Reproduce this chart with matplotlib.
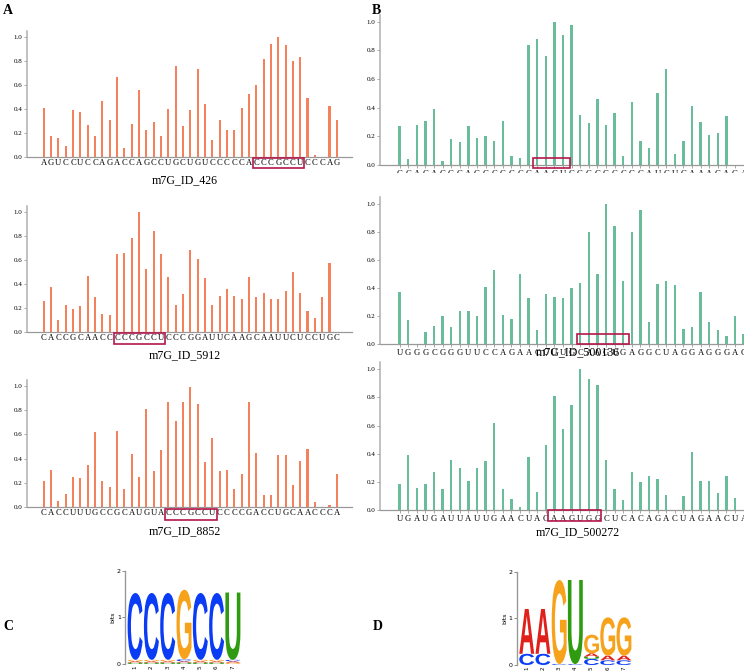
import numpy as np
import matplotlib
matplotlib.use('Agg')
import matplotlib.pyplot as plt
from matplotlib.patches import Rectangle, PathPatch
from matplotlib.textpath import TextPath
from matplotlib.font_manager import FontProperties
import matplotlib.transforms as mtrans

# sequences (x tick labels) and normalised values
seq_a1 = "AGUCCUCCAGACCAGCCUGCUGUCCCCCACCCGCCUCCCAG"
val_a1 = [0.41, 0.18, 0.16, 0.09, 0.39, 0.38, 0.27, 0.18, 0.47, 0.31,
          0.67, 0.08, 0.28, 0.56, 0.23, 0.29, 0.18, 0.40, 0.76, 0.26,
          0.39, 0.73, 0.44, 0.14, 0.31, 0.23, 0.23, 0.41, 0.53, 0.60,
          0.82, 0.94, 1.00, 0.93, 0.80, 0.83, 0.49, 0.02, 0.00, 0.43,
          0.31]
seq_a2 = "CACCGCAACCCCCGCCUCCCGGAUUCAAGCAAUUCUCCUGC"
val_a2 = [0.26, 0.38, 0.10, 0.23, 0.19, 0.22, 0.47, 0.29, 0.15, 0.14,
          0.65, 0.66, 0.78, 1.00, 0.53, 0.84, 0.65, 0.46, 0.23, 0.32,
          0.68, 0.61, 0.45, 0.23, 0.30, 0.36, 0.30, 0.28, 0.46, 0.29,
          0.33, 0.28, 0.28, 0.34, 0.50, 0.33, 0.18, 0.12, 0.29, 0.58,
          0.00]
seq_a3 = "CACCUUUGCCGCAUGUACCCGCCUCCCCGACCUGCAACCCA"
val_a3 = [0.22, 0.31, 0.05, 0.11, 0.25, 0.24, 0.35, 0.62, 0.22, 0.17,
          0.63, 0.15, 0.44, 0.25, 0.81, 0.30, 0.47, 0.87, 0.71, 0.87,
          0.99, 0.85, 0.37, 0.57, 0.30, 0.31, 0.15, 0.27, 0.87, 0.45,
          0.10, 0.10, 0.43, 0.43, 0.18, 0.38, 0.48, 0.04, 0.00, 0.02,
          0.27]
seq_b1 = "GCAGAGGGAGGCCCCGAAGUGGCGGCCGGAUCUGAAAGAGA"
val_b1 = [0.27, 0.04, 0.28, 0.31, 0.39, 0.03, 0.18, 0.16, 0.27, 0.19,
          0.20, 0.17, 0.31, 0.06, 0.05, 0.84, 0.88, 0.76, 1.00, 0.91,
          0.98, 0.35, 0.29, 0.46, 0.28, 0.36, 0.06, 0.44, 0.17, 0.12,
          0.50, 0.67, 0.08, 0.17, 0.41, 0.30, 0.21, 0.22, 0.34, 0.00,
          0.00]
seq_b2 = "UGGGCGGGUUCCAGAACUUUGCAAGUGAGGCUAGGAGGGAC"
val_b2 = [0.37, 0.17, 0.00, 0.09, 0.13, 0.20, 0.12, 0.24, 0.24, 0.20,
          0.41, 0.53, 0.21, 0.18, 0.50, 0.33, 0.10, 0.36, 0.34, 0.33,
          0.40, 0.44, 0.80, 0.50, 1.00, 0.84, 0.45, 0.80, 0.96, 0.16,
          0.43, 0.45, 0.42, 0.11, 0.12, 0.37, 0.16, 0.10, 0.06, 0.20,
          0.07]
seq_b3 = "UGAUGAUUAUUGAACUACAAGUGGCUCACAGACUAGAACUA"
val_b3 = [0.19, 0.39, 0.16, 0.19, 0.27, 0.15, 0.36, 0.30, 0.21, 0.30,
          0.35, 0.62, 0.15, 0.08, 0.02, 0.38, 0.13, 0.46, 0.81, 0.58,
          0.75, 1.00, 0.93, 0.89, 0.36, 0.15, 0.07, 0.27, 0.20, 0.24,
          0.22, 0.11, 0.00, 0.10, 0.41, 0.21, 0.21, 0.12, 0.24, 0.09,
          0.00]
titles_a = ["m7G_ID_426", "m7G_ID_5912", "m7G_ID_8852"]
titles_b = ["", "m7G_ID_500136", "m7G_ID_500272"]

# sequence logos: per position, (base, bits) from bottom to top
logo_c = [
    [('U', 0.03), ('A', 0.03), ('G', 0.03), ('C', 1.43)],
    [('U', 0.03), ('A', 0.03), ('G', 0.03), ('C', 1.43)],
    [('U', 0.03), ('A', 0.03), ('G', 0.03), ('C', 1.43)],
    [('U', 0.03), ('A', 0.03), ('C', 0.04), ('G', 1.49)],
    [('U', 0.03), ('A', 0.03), ('G', 0.03), ('C', 1.43)],
    [('U', 0.03), ('A', 0.03), ('G', 0.03), ('C', 1.43)],
    [('G', 0.03), ('A', 0.03), ('C', 0.03), ('U', 1.44)],
]
logo_d = [
    [('C', 0.24), ('A', 0.96)],
    [('C', 0.24), ('A', 0.96)],
    [('C', 0.02), ('G', 1.80)],
    [('C', 0.02), ('U', 1.80)],
    [('C', 0.13), ('U', 0.05), ('A', 0.07), ('G', 0.40)],
    [('C', 0.10), ('A', 0.10), ('G', 0.82)],
    [('C', 0.10), ('A', 0.10), ('G', 0.82)],
]
base_col = {'A': '#e0201b', 'C': '#0a3cf5', 'G': '#f7a21b', 'U': '#2e9b10'}

W, H = 744, 671
fig = plt.figure(figsize=(W / 100, H / 100), dpi=100)
serif = 'Liberation Serif'
box_col = '#b5174b'


def px_axes(x0, x1, ytop, ybot):
    return fig.add_axes([x0 / W, 1 - ybot / H, (x1 - x0) / W, (ybot - ytop) / H])


def bar_panel(x_spine, dx, y_zero, y_one, seq, vals, color, box, tick_len=0):
    unit = y_zero - y_one
    ax = px_axes(x_spine, x_spine + 44.34 * dx, y_zero - 1.05 * unit, y_zero)
    x = np.arange(len(vals))
    ax.bar(x, vals, width=0.3, color=color)
    ax.set_xlim(-2.28, 42.06)
    ax.set_ylim(0, 1.05)
    ax.set_xticks(x)
    ax.set_xticklabels(list(seq), fontsize=6.2, family=serif)
    ax.set_yticks(np.arange(0, 1.01, 0.2))
    ax.set_yticklabels(['%.1f' % v for v in np.arange(0, 1.01, 0.2)],
                       fontsize=5, family=serif)
    ax.tick_params(axis='x', length=tick_len, pad=1.5, color='#999999', width=0.6)
    ax.tick_params(axis='y', length=2, pad=1.5, color='#999999', width=0.6)
    for s in ['top', 'right']:
        ax.spines[s].set_visible(False)
    ax.spines['left'].set_color('#b0b0b0')
    ax.spines['bottom'].set_color('#999999')
    ax.spines['left'].set_linewidth(1.1)
    ax.spines['bottom'].set_linewidth(0.9)
    bx0, bx1, by0, by1 = box
    ax.add_patch(Rectangle((bx0, by0), bx1 - bx0, by1 - by0, fill=False,
                           ec=box_col, lw=1.2, clip_on=False, zorder=5))
    return ax


orange = '#f4805c'
green = '#69bd9b'

# panel A
bar_panel(27, 7.33, 157.3, 37.0, seq_a1, val_a1, orange, (28.5, 35.55, -0.091, -0.008))
bar_panel(27, 7.33, 332.3, 212.0, seq_a2, val_a2, orange, (9.55, 16.6, -0.097, -0.008))
bar_panel(27, 7.33, 507.3, 385.7, seq_a3, val_a3, orange, (16.55, 23.6, -0.107, -0.016))
for t, yy in zip(titles_a, [180, 355, 531]):
    fig.text(185 / W, 1 - yy / H, t, ha='center', va='center', fontsize=8.6, family=serif)

# panel B
bar_panel(380, 8.6, 165.0, 21.7, seq_b1, val_b1, green, (15.56, 19.86, -0.021, 0.049), tick_len=2)
bar_panel(380, 8.6, 344.3, 204.0, seq_b2, val_b2, green, (20.67, 26.72, 0.0, 0.076), tick_len=2)
bar_panel(380, 8.6, 510.3, 369.3, seq_b3, val_b3, green, (17.3, 23.43, -0.074, 0.0), tick_len=2)
# lower half of the first B sequence is hidden in the original
fig.patches.append(Rectangle((375 / W, 1 - 190 / H), 370 / W, 16.5 / H,
                             transform=fig.transFigure, fc='white', ec='none', zorder=10))
for t, yy in zip(titles_b, [0, 352, 532]):
    if t:
        fig.text(578 / W, 1 - yy / H, t, ha='center', va='center', fontsize=8.6, family=serif,
                 zorder=20)

# logos
lfont = FontProperties(family='Liberation Sans', weight='bold')


def draw_base(ax, ch, x, y, w, h):
    tp = TextPath((0, 0), ch, size=1, prop=lfont)
    bb = tp.get_extents()
    tr = mtrans.Affine2D().translate(-bb.x0, -bb.y0).scale(w / bb.width, h / bb.height).translate(x, y)
    ax.add_patch(PathPatch(tr.transform_path(tp), fc=base_col[ch], ec='none', lw=0))


def logo_panel(x_spine, y_zero, bit_px, col_px, data):
    ax = px_axes(x_spine, x_spine + 7.22 * col_px, y_zero - 2 * bit_px, y_zero)
    ax.set_xlim(0.38, 7.6)
    ax.set_ylim(0, 2)
    for i, stack in enumerate(data):
        y = 0.0
        for ch, h in stack:
            draw_base(ax, ch, i + 1 - 0.46, y, 0.92, h)
            y += h
    ax.set_yticks([0, 1, 2])
    ax.set_yticklabels(['0', '1', '2'], fontsize=4.5)
    ax.set_xticks(range(1, 8))
    ax.set_xticklabels([str(i) for i in range(1, 8)], fontsize=4, rotation=90)
    ax.tick_params(axis='y', length=2, pad=1, width=0.6, color='#777777')
    ax.tick_params(axis='x', length=0, pad=1)
    ax.set_ylabel('bits', fontsize=4.5, labelpad=1)
    for s in ['top', 'right', 'bottom']:
        ax.spines[s].set_visible(False)
    ax.spines['left'].set_color('#999999')
    ax.spines['left'].set_linewidth(1.0)


logo_panel(125, 664, 46.7, 16.3, logo_c)
logo_panel(516.7, 665, 46.7, 16.2, logo_d)

# panel letters
for lab, xx, yy in [('A', 8, 11), ('B', 376, 10), ('C', 8, 627), ('D', 378, 627)]:
    fig.text(xx / W, 1 - yy / H, lab, ha='center', va='center', fontsize=10,
             fontweight='bold', family=serif)

fig.savefig('out.png', dpi=100)
